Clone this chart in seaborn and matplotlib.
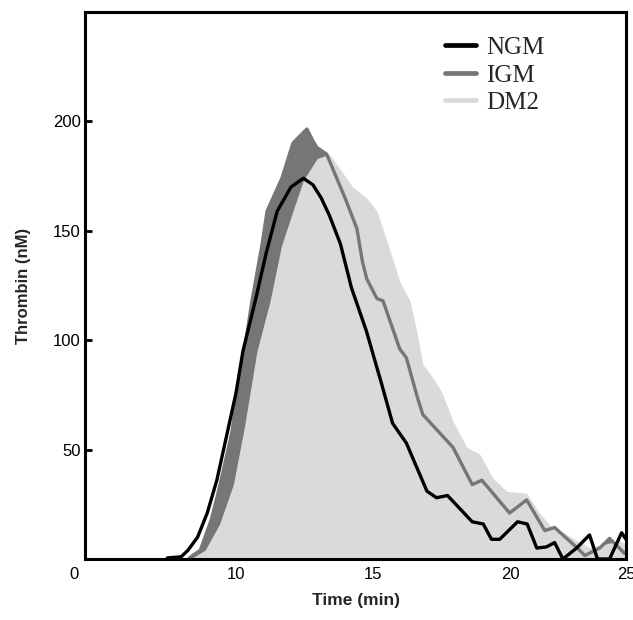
import numpy as np
import pandas as pd
import seaborn as sns
import matplotlib.pyplot as plt
import matplotlib.transforms as mtransforms
from matplotlib.lines import Line2D

# values (time in min, thrombin in nM)
ngm_time = [7.5, 8.0, 8.25, 8.6, 8.95, 9.3, 9.65, 10.0, 10.25, 10.7, 11.1, 11.5, 12.0, 12.45,
            12.8, 13.1, 13.4, 13.8, 14.2, 14.75, 15.3, 15.7, 16.2, 16.95, 17.3, 17.7, 18.6,
            19.0, 19.3, 19.6, 20.25, 20.6, 20.95, 21.3, 21.6, 21.9, 22.4, 22.87, 23.16, 23.6,
            24.04, 24.3]
ngm_thrombin = [0.5, 1, 4, 10, 21, 36, 56, 76, 95, 118, 140, 159, 170, 174,
                171, 165, 157, 144, 124, 104, 80, 62, 53, 31, 28, 29, 17,
                16, 9, 9, 17, 16, 5, 5.5, 7.5, 0, 5, 11, 0, 0,
                12, 7]

igm_time = [8.3, 8.7, 9.1, 9.42, 9.85, 10.15, 10.3, 10.58, 10.95, 11.13, 11.67, 12.07, 12.3,
            12.58, 12.8, 12.95, 13.3, 13.5, 14.0, 14.4, 14.6, 14.76, 15.13, 15.35, 15.96, 16.2,
            16.6, 16.8, 17.9, 18.6, 18.95, 19.96, 20.58, 21.24, 21.6, 22.4, 22.7, 23.24, 23.6,
            24.15, 24.3]
igm_thrombin = [0.5, 4, 18, 34, 58, 85, 95, 118, 144, 159, 174, 190, 193,
                196.5, 191, 188, 185, 179, 164, 151, 136, 128, 119, 118, 96, 92,
                74, 66, 51, 34, 36, 21, 27, 13, 14.4, 5.3, 1.6, 5, 9.4,
                2.5, 5]

dm2_time = [8.4, 8.87, 9.4, 9.9, 10.3, 10.76, 11.24, 11.65, 12.07, 12.45, 12.95, 13.4, 13.8,
            14.25, 14.76, 15.13, 15.5, 15.96, 16.33, 16.6, 16.8, 17.16, 17.5, 17.9, 18.4,
            18.87, 19.35, 19.85, 20.58, 21.05, 21.5, 22.0, 22.4, 22.87, 23.5, 23.96, 24.3]
dm2_thrombin = [0.5, 4, 16, 34, 60, 95, 118, 143, 159, 173, 183, 185, 178,
                170, 165, 159, 145, 127, 118, 103, 89, 83, 76, 63, 51,
                48, 37, 31, 30, 21, 14.4, 11.6, 8.4, 5.3, 7, 8.4, 6]

xtick_vals = [10, 15, 20]
xtick_labels = ['0', '10', '15', '20', '25']
ytick_vals = [50, 100, 150, 200]

ngm = pd.DataFrame({'time': ngm_time, 'thrombin': ngm_thrombin})
igm = pd.DataFrame({'time': igm_time, 'thrombin': igm_thrombin})
dm2 = pd.DataFrame({'time': dm2_time, 'thrombin': dm2_thrombin})

sns.set_style('ticks')
plt.rcParams['font.family'] = ['Liberation Sans', 'DejaVu Sans']

c_ngm = '#000000'
c_igm = '#767676'
c_dm2 = '#dadada'

fig = plt.figure(figsize=(6.33, 6.20), dpi=100)
ax = fig.add_axes([0.1343, 0.0984, 0.8547, 0.8823])

ax.fill_between(igm['time'], igm['thrombin'], 0, color=c_igm, lw=0, zorder=1)
ax.fill_between(dm2['time'], dm2['thrombin'], 0, color=c_dm2, lw=0, zorder=2)
sns.lineplot(data=igm, x='time', y='thrombin', color=c_igm, lw=2.4, ax=ax, zorder=3)
sns.lineplot(data=ngm, x='time', y='thrombin', color=c_ngm, lw=2.4, ax=ax, zorder=4)

xmin, xmax = 4.5, 24.2
ax.set_xlim(xmin, xmax)
ax.set_ylim(0, 250)

ax.set_xticks([xmin] + xtick_vals + [xmax])
ax.set_xticklabels(xtick_labels)
ax.set_yticks(ytick_vals)
ax.tick_params(direction='in', length=5, width=2, labelsize=12, colors='black', pad=6)
ax.tick_params(axis='y', pad=3)
# the "0" label sits a little left of the spine
lab0 = ax.get_xticklabels()[0]
lab0.set_transform(lab0.get_transform() + mtransforms.ScaledTranslation(-0.11, 0, fig.dpi_scale_trans))

for s in ax.spines.values():
    s.set_linewidth(2.2)
    s.set_color('black')
    s.set_zorder(5)

ax.set_xlabel('Time (min)', fontsize=12.5, fontweight='bold', labelpad=8)
ax.set_ylabel('Thrombin (nM)', fontsize=12, fontweight='bold', labelpad=16)

handles = [Line2D([], [], color=c_ngm, lw=3.4),
           Line2D([], [], color=c_igm, lw=3.4),
           Line2D([], [], color=c_dm2, lw=3.4)]
ax.legend(handles, ['NGM', 'IGM', 'DM2'], loc='upper left', bbox_to_anchor=(0.665, 0.955),
          frameon=False, borderpad=0, borderaxespad=0, handlelength=1.25, handletextpad=0.4,
          labelspacing=0.2, prop={'family': 'Liberation Serif', 'size': 18})

fig.savefig('out.png', dpi=100)
